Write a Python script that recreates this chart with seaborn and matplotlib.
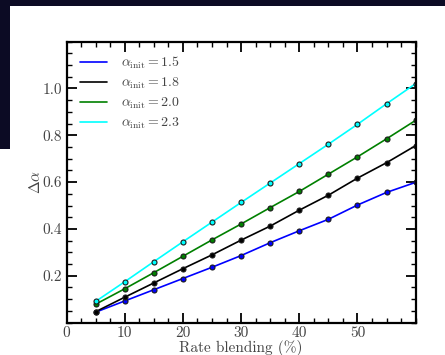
import numpy as np
import pandas as pd
import matplotlib
matplotlib.use("Agg")
import matplotlib.pyplot as plt
from matplotlib.patches import Rectangle
from matplotlib.ticker import MultipleLocator
import seaborn as sns

blending = [5, 10, 15, 20, 25, 30, 35, 40, 45, 50, 55, 60]
alpha_15 = [0.044, 0.092, 0.140, 0.188, 0.236, 0.286, 0.341, 0.392, 0.441, 0.502, 0.556, 0.599]
alpha_18 = [0.046, 0.108, 0.169, 0.230, 0.289, 0.352, 0.412, 0.480, 0.544, 0.617, 0.683, 0.756]
alpha_20 = [0.078, 0.144, 0.213, 0.283, 0.353, 0.421, 0.491, 0.560, 0.634, 0.708, 0.785, 0.864]
alpha_23 = [0.090, 0.174, 0.260, 0.345, 0.429, 0.513, 0.596, 0.679, 0.762, 0.847, 0.935, 1.021]
labels = [r"$\alpha_{\rm init} = 1.5$", r"$\alpha_{\rm init} = 1.8$",
          r"$\alpha_{\rm init} = 2.0$", r"$\alpha_{\rm init} = 2.3$"]
colors = ["#0000ff", "#000000", "#008000", "#00ffff"]

rows = []
for lab, vals in zip(labels, [alpha_15, alpha_18, alpha_20, alpha_23]):
    for x, v in zip(blending, vals):
        rows.append({"blend": x, "dalpha": v, "series": lab})
df = pd.DataFrame(rows)

sns.set_style("white")
plt.rcParams["font.family"] = ["cmr10", "DejaVu Serif"]
plt.rcParams["mathtext.fontset"] = "cm"
plt.rcParams["axes.formatter.use_mathtext"] = True

fig = plt.figure(figsize=(4.45, 3.55), dpi=100)
fig.patch.set_facecolor("white")
# dark screenshot border
fig.patches.append(Rectangle((0, 1 - 6 / 355), 1, 6 / 355, transform=fig.transFigure,
                             facecolor="#0c0b24", edgecolor="none", zorder=-1))
fig.patches.append(Rectangle((0, 1 - 149 / 355), 10 / 445, 143 / 355, transform=fig.transFigure,
                             facecolor="#0c0b24", edgecolor="none", zorder=-1))

ax = fig.add_axes([66.5 / 445, 1 - 322.5 / 355, (415.7 - 66.5) / 445, (322.5 - 41.7) / 355])
sns.lineplot(data=df, x="blend", y="dalpha", hue="series", palette=colors,
             marker="o", markersize=3.6, markeredgecolor="#1a1a1a", markeredgewidth=0.8,
             linewidth=1.2, ax=ax, legend=True, clip_on=True)

ax.set_xlim(0, 60)
ax.set_ylim(0, 1.2)
ax.xaxis.set_major_locator(MultipleLocator(10))
ax.xaxis.set_minor_locator(MultipleLocator(2.5))
ax.yaxis.set_major_locator(MultipleLocator(0.2))
ax.yaxis.set_minor_locator(MultipleLocator(0.05))
ax.set_xticks([0, 10, 20, 30, 40, 50])
ax.set_xticklabels(["0", "10", "20", "30", "40", "50"])
ax.set_yticks([0.2, 0.4, 0.6, 0.8, 1.0])
ax.set_yticklabels(["0.2", "0.4", "0.6", "0.8", "1.0"])
ax.tick_params(which="both", direction="in", top=True, right=True, bottom=True, left=True,
               labelsize=11, colors="black", labelcolor="#444444")
ax.tick_params(which="major", length=7, width=1.3, pad=3)
ax.tick_params(which="minor", length=3.5, width=1.0)
for s in ax.spines.values():
    s.set_linewidth(1.6)
    s.set_color("black")
    s.set_visible(True)

ax.set_xlabel("Rate blending (%)", fontsize=11, color="#444444", labelpad=0)
ax.set_ylabel(r"$\Delta\alpha$", fontsize=11, color="#444444", labelpad=0)

handles, labs = ax.get_legend_handles_labels()
for h in handles:
    h.set_marker("")
leg = ax.legend(handles, labs, loc="upper left", frameon=False, fontsize=10,
                handlelength=2.0, labelspacing=0.33, borderaxespad=0.55, handletextpad=1.0)
for t in leg.get_texts():
    t.set_color("#444444")

fig.savefig("out.png", dpi=100)
